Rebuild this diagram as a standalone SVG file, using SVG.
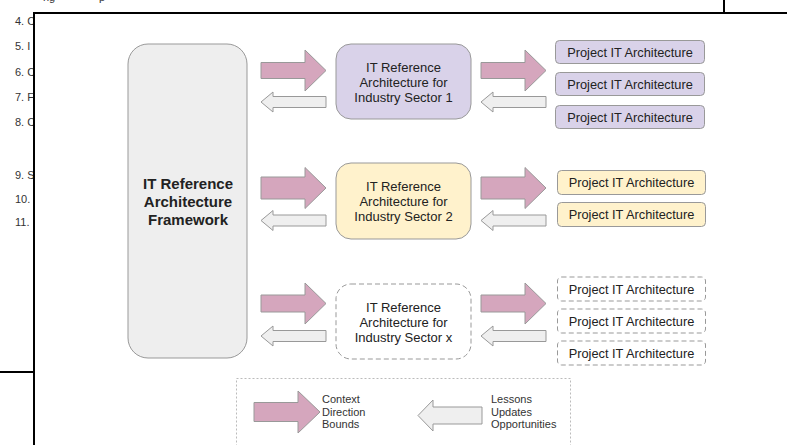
<svg xmlns="http://www.w3.org/2000/svg" width="787" height="445" viewBox="0 0 787 445">
<style>
text{font-family:"Liberation Sans",Arial,sans-serif;fill:#222}
.list{font-size:11px;fill:#333}
.sec{font-size:13px;text-anchor:middle}
.proj{font-size:12.8px;text-anchor:middle}
.leg{font-size:11px;fill:#333}
.box{stroke:#999;stroke-width:1}
.pink{fill:#d5a6bd;stroke:#999;stroke-width:1}
.grey{fill:#efefef;stroke:#999;stroke-width:1}
.frame{stroke:#000;stroke-width:2;fill:none}
</style>
<rect width="787" height="445" fill="#fff"/>
<g id="background-text">
<text class="list" x="43" y="1">ng</text>
<text class="list" x="99" y="1">p</text>
<text class="list" x="15" y="25">4. C</text>
<text class="list" x="15" y="50">5. I</text>
<text class="list" x="15" y="76">6. C</text>
<text class="list" x="15" y="101">7. F</text>
<text class="list" x="15" y="126">8. C</text>
<text class="list" x="15" y="179">9. S</text>
<text class="list" x="15" y="203">10.</text>
<text class="list" x="15" y="226">11.</text>
</g>
<rect x="35" y="14" width="752" height="431" fill="#fff"/>
<g id="frame">
<line class="frame" x1="34" y1="13" x2="787" y2="13"/>
<line class="frame" x1="34" y1="12" x2="34" y2="445"/>
<line class="frame" x1="724" y1="0" x2="724" y2="13"/>
<line class="frame" x1="0" y1="372" x2="34" y2="372"/>
</g>
<g id="framework">
<rect class="box" x="128" y="44" width="119" height="314" rx="20" fill="#eeeeee"/>
<text x="188" y="189" font-size="15" font-weight="bold" text-anchor="middle">IT Reference</text>
<text x="188" y="207" font-size="15" font-weight="bold" text-anchor="middle">Architecture</text>
<text x="188" y="225" font-size="15" font-weight="bold" text-anchor="middle">Framework</text>
</g>
<g id="sector1">
<rect class="box" x="336" y="44" width="135" height="75" rx="15" fill="#d9d2e9"/>
<text class="sec" x="403.5" y="72">IT Reference</text>
<text class="sec" x="403.5" y="87">Architecture for</text>
<text class="sec" x="403.5" y="102">Industry Sector 1</text>
</g>
<g id="sector2">
<rect class="box" x="336" y="163" width="135" height="76" rx="15" fill="#fff2cc"/>
<text class="sec" x="403.5" y="191">IT Reference</text>
<text class="sec" x="403.5" y="206">Architecture for</text>
<text class="sec" x="403.5" y="221">Industry Sector 2</text>
</g>
<g id="sectorx">
<rect class="box" x="336" y="284" width="135" height="75" rx="15" fill="#fff" stroke-dasharray="5,3"/>
<text class="sec" x="403.5" y="312">IT Reference</text>
<text class="sec" x="403.5" y="327">Architecture for</text>
<text class="sec" x="403.5" y="342">Industry Sector x</text>
</g>
<g id="project1a"><rect class="box" x="555.5" y="40.5" width="149" height="23" rx="4" fill="#d9d2e9"/><text class="proj" x="630" y="56.5">Project IT Architecture</text></g>
<g id="project1b"><rect class="box" x="555.5" y="72.5" width="149" height="23" rx="4" fill="#d9d2e9"/><text class="proj" x="630" y="88.5">Project IT Architecture</text></g>
<g id="project1c"><rect class="box" x="555.5" y="105.5" width="149" height="23" rx="4" fill="#d9d2e9"/><text class="proj" x="630" y="121.5">Project IT Architecture</text></g>
<g id="project2a"><rect class="box" x="557.5" y="170.5" width="148" height="24" rx="4" fill="#fff2cc"/><text class="proj" x="631.5" y="187">Project IT Architecture</text></g>
<g id="project2b"><rect class="box" x="557.5" y="202.5" width="148" height="24" rx="4" fill="#fff2cc"/><text class="proj" x="631.5" y="219">Project IT Architecture</text></g>
<g id="projectxa"><rect class="box" x="557.5" y="277" width="148" height="24" rx="4" fill="#fff" stroke-dasharray="5,3"/><text class="proj" x="631.5" y="293.5">Project IT Architecture</text></g>
<g id="projectxb"><rect class="box" x="557.5" y="309" width="148" height="24" rx="4" fill="#fff" stroke-dasharray="5,3"/><text class="proj" x="631.5" y="325.5">Project IT Architecture</text></g>
<g id="projectxc"><rect class="box" x="557.5" y="341" width="148" height="24" rx="4" fill="#fff" stroke-dasharray="5,3"/><text class="proj" x="631.5" y="357.5">Project IT Architecture</text></g>
<g id="connectors">
<path class="pink" d="M261,62.5 H305 V50 L326,70.5 L305,91 V78.5 H261 Z"/>
<path class="grey" d="M261,102 L273,92 V96.5 H326 V107.5 H273 V112 Z"/>
<path class="pink" d="M481,62.5 H525 V50 L546,70.5 L525,91 V78.5 H481 Z"/>
<path class="grey" d="M481,102 L493,92 V96.5 H546 V107.5 H493 V112 Z"/>
<path class="pink" d="M261,177 H305 V167.5 L326,188 L305,208.5 V199 H261 Z"/>
<path class="grey" d="M261,220.5 L273,210.5 V215 H326 V226 H273 V230.5 Z"/>
<path class="pink" d="M481,177 H525 V167.5 L546,188 L525,208.5 V199 H481 Z"/>
<path class="grey" d="M481,220.5 L493,210.5 V215 H546 V226 H493 V230.5 Z"/>
<path class="pink" d="M261,295 H305 V283 L326,303.5 L305,324 V312 H261 Z"/>
<path class="grey" d="M261,336 L273,326 V330.5 H326 V341.5 H273 V346 Z"/>
<path class="pink" d="M481,295 H525 V283 L546,303.5 L525,324 V312 H481 Z"/>
<path class="grey" d="M481,336 L493,326 V330.5 H546 V341.5 H493 V346 Z"/>
</g>
<g id="legend">
<rect x="236.5" y="378.5" width="334" height="80" fill="none" stroke="#bbb" stroke-width="1" stroke-dasharray="2,2"/>
<path class="pink" d="M254,402.5 H298 V391 L320,412 L298,433 V421.5 H254 Z"/>
<text class="leg" x="322" y="403">Context</text>
<text class="leg" x="322" y="415.5">Direction</text>
<text class="leg" x="322" y="427.5">Bounds</text>
<path class="grey" d="M418,415.5 L433,400 V407 H482 V424 H433 V431 Z"/>
<text class="leg" x="491" y="403">Lessons</text>
<text class="leg" x="491" y="415.5">Updates</text>
<text class="leg" x="491" y="427.5">Opportunities</text>
</g>
</svg>
